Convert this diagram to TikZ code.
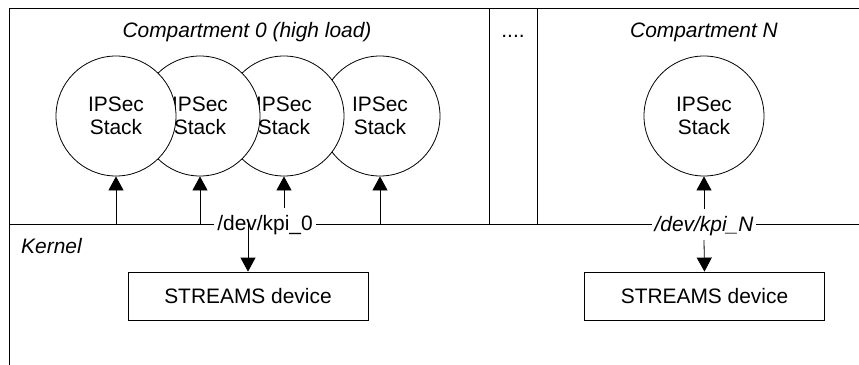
\documentclass[tikz,border=0pt]{standalone}
\usepackage{fontspec}
\setmainfont{Liberation Sans}
\usetikzlibrary{arrows.meta}
\begin{document}
\begin{tikzpicture}[x=1bp,y=-1bp,
  every node/.style={font=\fontsize{21}{23}\selectfont},
  frameline/.style={line width=1bp},
  stack/.style={circle,draw,fill=white,minimum size=120bp,inner sep=0pt,align=center,line width=0.8bp},
  devbox/.style={rectangle,draw,fill=white,minimum width=240bp,minimum height=48bp,inner sep=0pt,line width=0.8bp},
  lbl/.style={fill=white,inner xsep=3bp,inner ysep=6bp,text height=16bp,text depth=3bp,anchor=base},
  title/.style={anchor=base,inner sep=0pt},
  ital/.style={font=\fontsize{21}{23}\selectfont\itshape},
  arr/.style={line width=0.8bp,-{Triangle[width=15bp,length=14bp]}}
]
\useasboundingbox (0,0) rectangle (859,364);
\fill[white] (0,0) rectangle (859,364);
\clip (0,0) rectangle (859,364);
% outer frame (cropped on right and bottom)
\draw[frameline] (9,8) rectangle (880,390);
% separators between compartments
\draw[frameline] (489,8) -- (489,224);
\draw[frameline] (537,8) -- (537,224);
% kernel boundary line
\draw[frameline] (9,224) -- (859,224);

% titles
\node[title,ital] (c0) at (247,37) {Compartment 0 (high load)};
\node[title] (dots) at (513,37) {....};
\node[title,ital] (cN) at (704,37) {Compartment N};
\node[title,ital,anchor=base west] (kern) at (21,253) {Kernel};

% stacks (drawn back to front)
\node[stack] (s4) at (380,116) {IPSec\\Stack};
\node[stack] (s3) at (284,116) {IPSec\\Stack};
\node[stack] (s2) at (200,116) {IPSec\\Stack};
\node[stack] (s1) at (116,116) {IPSec\\Stack};
\node[stack] (sN) at (704,116) {IPSec\\Stack};

% device labels on the kernel line
\node[lbl] (k0) at (265,230) {/dev/kpi\_0};
\node[lbl,ital] (kN) at (704,231) {/dev/kpi\_N};

% STREAMS devices
\node[devbox] (b0) at (248,296) {STREAMS device};
\node[devbox] (bN) at (704.5,296) {STREAMS device};

% connection points on the kernel line
\coordinate (a1) at (116,224);
\coordinate (a2) at (200,224);
\coordinate (a4) at (380,224);
\coordinate (d0) at (248,224);

% arrows
\draw[arr] (a1) -- (s1.south);
\draw[arr] (a2) -- (s2.south);
\draw[arr] (k0.north -| s3.south) -- (s3.south);
\draw[arr] (a4) -- (s4.south);
\draw[arr] (d0) -- (b0.north);
\draw[arr] (kN.north) -- (sN.south);
\draw[arr] (kN.south) -- (bN.north);
\end{tikzpicture}
\end{document}
